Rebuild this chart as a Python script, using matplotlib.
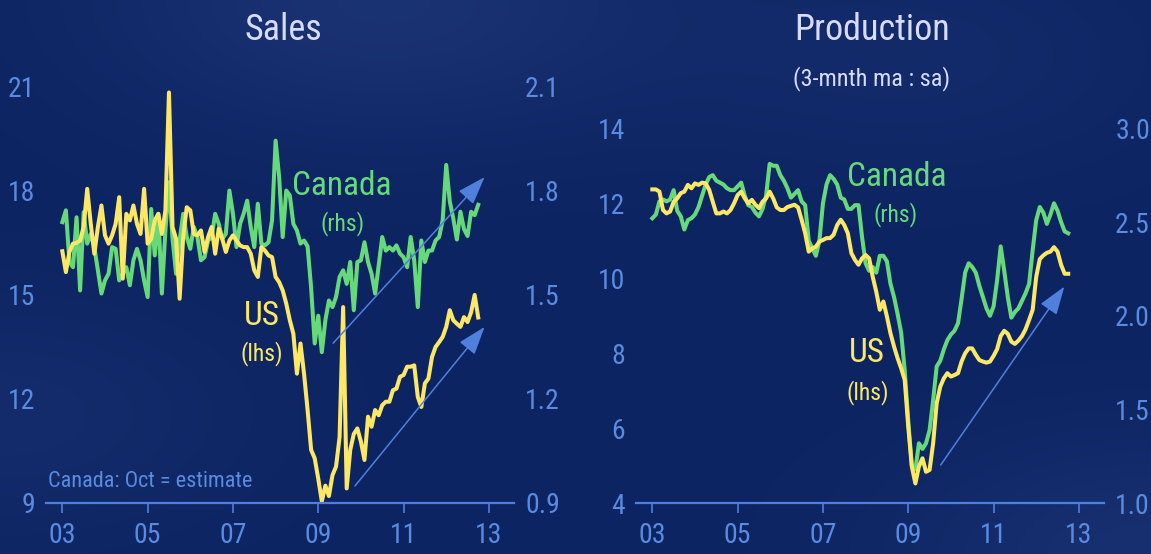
import numpy as np
import matplotlib
matplotlib.use("Agg")
import matplotlib.pyplot as plt
from matplotlib import font_manager

# ---- data (monthly, Jan 2003 .. Oct 2012) ----
start_year = 2003
xtick_years = [2003, 2005, 2007, 2009, 2011, 2013]
xtick_labels = ["03", "05", "07", "09", "11", "13"]

# Sales: US (lhs, mn saar), Canada (rhs, mn saar)
sales_us = [16.26, 15.66, 16.24, 16.48, 16.50, 16.57, 16.96, 18.06, 17.05, 16.19, 16.96, 17.58,
            16.72, 16.48, 16.72, 17.05, 17.82, 15.47, 17.34, 17.15, 17.58, 17.05, 16.76, 18.06,
            16.48, 16.62, 17.15, 17.34, 16.76, 17.44, 20.84, 16.96, 16.62, 14.89, 16.67, 17.53,
            17.44, 16.76, 16.72, 16.86, 16.24, 16.67, 16.96, 16.19, 16.91, 16.62, 16.24, 16.57,
            16.72, 16.57, 16.43, 16.38, 16.38, 16.19, 15.71, 15.52, 16.38, 16.28, 16.14, 16.09,
            15.52, 15.37, 15.13, 14.75, 14.27, 13.88, 12.73, 13.60, 12.73, 11.68, 10.53, 10.29,
            9.70, 9.05, 9.50, 9.20, 9.80, 10.05, 10.90, 14.65, 9.42, 10.53, 10.99, 11.15,
            10.77, 10.24, 11.49, 11.20, 11.68, 11.53, 11.82, 11.92, 11.92, 12.25, 12.30, 12.64,
            12.69, 12.93, 12.93, 12.97, 12.06, 11.77, 12.45, 12.59, 13.21, 13.50, 13.64, 13.79,
            14.08, 14.56, 14.27, 14.17, 14.08, 14.36, 14.22, 14.50, 15.00, 14.35]
sales_ca = [1.710, 1.744, 1.595, 1.580, 1.724, 1.513, 1.739, 1.648, 1.676, 1.638, 1.571, 1.504,
            1.542, 1.561, 1.638, 1.633, 1.542, 1.561, 1.580, 1.528, 1.600, 1.633, 1.600, 1.542,
            1.494, 1.748, 1.614, 1.734, 1.504, 1.686, 1.825, 1.662, 1.561, 1.657, 1.734, 1.667,
            1.633, 1.696, 1.667, 1.600, 1.609, 1.657, 1.667, 1.734, 1.705, 1.662, 1.676, 1.801,
            1.734, 1.638, 1.705, 1.734, 1.772, 1.696, 1.638, 1.763, 1.648, 1.643, 1.652, 1.715,
            1.945, 1.840, 1.667, 1.801, 1.787, 1.705, 1.686, 1.648, 1.657, 1.640, 1.520, 1.360,
            1.440, 1.335, 1.427, 1.484, 1.465, 1.494, 1.552, 1.571, 1.532, 1.595, 1.456, 1.595,
            1.600, 1.652, 1.595, 1.561, 1.504, 1.585, 1.667, 1.628, 1.638, 1.628, 1.643, 1.619,
            1.609, 1.580, 1.667, 1.600, 1.465, 1.657, 1.595, 1.628, 1.628, 1.657, 1.667, 1.715,
            1.875, 1.770, 1.720, 1.660, 1.740, 1.690, 1.670, 1.740, 1.730, 1.760]

# Production (3-mnth ma : sa): US (lhs, mn), Canada (rhs, mn)
prod_us = [12.37, 12.37, 12.31, 11.82, 11.73, 11.78, 12.04, 12.13, 12.27, 12.31, 12.49, 12.40,
           12.53, 12.49, 12.55, 12.53, 12.36, 12.04, 11.73, 11.73, 11.78, 11.73, 11.82, 12.00,
           12.22, 12.31, 12.13, 12.00, 12.09, 11.96, 11.87, 12.04, 12.13, 12.31, 12.13, 11.89,
           11.82, 11.82, 11.90, 11.93, 11.96, 11.89, 11.56, 11.20, 10.71, 10.80, 10.84, 10.98,
           11.02, 11.07, 11.07, 11.16, 11.42, 11.56, 11.42, 11.20, 10.67, 10.49, 10.36, 10.53,
           10.62, 10.53, 10.04, 9.64, 9.16, 9.38, 8.98, 8.53, 8.18, 7.87, 7.60, 7.29,
           6.04, 4.98, 4.53, 4.98, 5.20, 4.84, 4.89, 5.60, 6.67, 7.11, 7.33, 7.47,
           7.38, 7.42, 7.47, 7.78, 8.00, 8.13, 8.13, 7.96, 7.82, 7.78, 7.75, 7.78,
           7.93, 8.11, 8.46, 8.60, 8.52, 8.31, 8.25, 8.34, 8.46, 8.64, 8.89, 9.16,
           10.04, 10.51, 10.61, 10.68, 10.71, 10.83, 10.71, 10.36, 10.12, 10.12]
prod_ca = [2.52, 2.54, 2.61, 2.62, 2.61, 2.62, 2.67, 2.56, 2.53, 2.46, 2.51, 2.52,
           2.54, 2.58, 2.64, 2.70, 2.74, 2.75, 2.72, 2.71, 2.70, 2.68, 2.67, 2.67,
           2.69, 2.71, 2.64, 2.59, 2.58, 2.55, 2.53, 2.57, 2.64, 2.81, 2.80, 2.80,
           2.75, 2.72, 2.68, 2.63, 2.65, 2.67, 2.61, 2.59, 2.40, 2.36, 2.32, 2.40,
           2.60, 2.70, 2.75, 2.73, 2.70, 2.63, 2.62, 2.57, 2.57, 2.59, 2.59, 2.42,
           2.28, 2.24, 2.26, 2.23, 2.32, 2.32, 2.29, 2.17, 2.10, 2.01, 1.91, 1.71,
           1.44, 1.20, 1.18, 1.32, 1.29, 1.32, 1.39, 1.55, 1.73, 1.76, 1.82, 1.87,
           1.90, 1.92, 1.96, 2.09, 2.23, 2.28, 2.26, 2.23, 2.16, 2.10, 2.04, 2.00,
           2.05, 2.19, 2.37, 2.24, 2.10, 1.99, 2.02, 2.04, 2.08, 2.12, 2.17, 2.35,
           2.51, 2.58, 2.55, 2.49, 2.54, 2.60, 2.56, 2.50, 2.45, 2.44]

sales_lhs_ticks = [9, 12, 15, 18, 21]
sales_rhs_ticks = [0.9, 1.2, 1.5, 1.8, 2.1]
prod_lhs_ticks = [4, 6, 8, 10, 12, 14]
prod_rhs_ticks = [1.0, 1.5, 2.0, 2.5, 3.0]

# ---- style ----
GREEN = "#66d97a"
YELLOW = "#fde866"
TICK = "#5a8be0"
AXIS = "#4f7fdc"
TITLE = "#d6dbff"

def pick_font(cands):
    names = {f.name for f in font_manager.fontManager.ttflist}
    for c in cands:
        if c in names:
            return c
    return "DejaVu Sans"

FONT = pick_font(["Liberation Sans Narrow", "Roboto Condensed", "Open Sans Condensed", "Liberation Sans"])
plt.rcParams["font.family"] = [FONT, "DejaVu Sans"]

months = start_year + np.arange(len(sales_us)) / 12.0
XLIM = (2002.618, 2013.59)

fig = plt.figure(figsize=(11.51, 5.54), dpi=100)

# background
yy, xx = np.mgrid[0:1:277j, 0:1:576j]
base = np.array([13, 36, 98]) / 255.0
light = np.array([36, 62, 128]) / 255.0
w = (0.55 * np.exp(-((xx - 0.33) ** 2 + (yy - 0.0) ** 2) / 0.06)
     + 0.45 * np.exp(-((xx - 1.0) ** 2 + (yy - 1.0) ** 2) / 0.05)
     + 0.30 * np.exp(-((xx - 0.0) ** 2 + (yy - 0.75) ** 2) / 0.05)
     + 0.25 * np.exp(-((xx - 0.8) ** 2 + (yy - 0.1) ** 2) / 0.05))
w = np.clip(w, 0, 1)
img = base[None, None, :] * (1 - w[..., None]) + light[None, None, :] * w[..., None]
bg = fig.add_axes([0, 0, 1, 1], zorder=-10)
bg.imshow(img, aspect="auto", extent=[0, 1, 0, 1], interpolation="bilinear")
bg.axis("off")


def setup_panel(rect, lhs_ticks, rhs_ticks, lhs_lim, rhs_lim, rhs_fmt):
    ax = fig.add_axes(rect)
    ax2 = ax.twinx()
    ax.set_zorder(ax2.get_zorder() + 1)
    ax.patch.set_visible(False)
    for a in (ax, ax2):
        for s in ("top", "left", "right", "bottom"):
            a.spines[s].set_visible(False)
    ax.spines["bottom"].set_visible(True)
    ax.spines["bottom"].set_color(AXIS)
    ax.spines["bottom"].set_linewidth(1.6)
    ax.set_xlim(*XLIM)
    ax.set_ylim(*lhs_lim)
    ax2.set_ylim(*rhs_lim)
    ax.set_xticks(xtick_years)
    ax.set_xticklabels(xtick_labels)
    ax.tick_params(axis="x", direction="out", length=7.5, width=1.2, color=AXIS,
                   labelcolor=TICK, labelsize=20, pad=6)
    ax.set_yticks(lhs_ticks)
    ax.set_yticklabels([str(t) for t in lhs_ticks])
    ax.tick_params(axis="y", length=0, labelcolor=TICK, labelsize=20, pad=8)
    ax2.set_yticks(rhs_ticks)
    ax2.set_yticklabels([rhs_fmt % t for t in rhs_ticks])
    ax2.tick_params(axis="y", length=0, labelcolor=TICK, labelsize=20, pad=8)
    ax2.tick_params(axis="x", length=0)
    return ax, ax2


arrow_kw = dict(arrowstyle="-|>,head_length=1.1,head_width=0.38", color="#4f80dc",
                lw=1.1, mutation_scale=16, shrinkA=0, shrinkB=0)
LW = 2.9

# ---- Sales ----
ax, ax2 = setup_panel([0.040, 0.0921, 0.4066, 0.751], sales_lhs_ticks, sales_rhs_ticks,
                      (9, 21), (0.9, 2.1), "%.1f")
ax2.plot(months, sales_ca, color=GREEN, lw=LW, solid_joinstyle="round", clip_on=False)
ax.plot(months, sales_us, color=YELLOW, lw=LW, solid_joinstyle="round", clip_on=False)
ax.annotate("", xy=(2012.90, 18.40), xytext=(2009.35, 13.61), arrowprops=arrow_kw)
ax.annotate("", xy=(2012.90, 14.08), xytext=(2009.86, 9.49), arrowprops=arrow_kw)
ax.text(2009.56, 18.15, "Canada", color=GREEN, fontsize=24, ha="center", va="center")
ax.text(2009.56, 17.05, "(rhs)", color=GREEN, fontsize=17, ha="center", va="center")
ax.text(2007.67, 14.4, "US", color=YELLOW, fontsize=24, ha="center", va="center")
ax.text(2007.67, 13.3, "(lhs)", color=YELLOW, fontsize=17, ha="center", va="center")
ax.text(2002.66, 9.62, "Canada: Oct = estimate", color=TICK, fontsize=16, ha="left", va="center")
fig.text(0.246, 0.945, "Sales", color=TITLE, fontsize=26, ha="center", va="center")

# ---- Production ----
bx, bx2 = setup_panel([0.5526, 0.0915, 0.4066, 0.677], prod_lhs_ticks, prod_rhs_ticks,
                      (4, 14), (1.0, 3.0), "%.1f")
bx2.plot(months, prod_ca, color=GREEN, lw=LW, solid_joinstyle="round", clip_on=False)
bx.plot(months, prod_us, color=YELLOW, lw=LW, solid_joinstyle="round", clip_on=False)
bx.annotate("", xy=(2012.66, 9.78), xytext=(2009.76, 5.02), arrowprops=arrow_kw)
bx.text(2008.73, 12.7, "Canada", color=GREEN, fontsize=24, ha="center", va="center")
bx.text(2008.70, 11.7, "(rhs)", color=GREEN, fontsize=17, ha="center", va="center")
bx.text(2008.03, 8.0, "US", color=YELLOW, fontsize=24, ha="center", va="center")
bx.text(2008.05, 6.95, "(lhs)", color=YELLOW, fontsize=17, ha="center", va="center")
fig.text(0.7576, 0.945, "Production", color=TITLE, fontsize=26, ha="center", va="center")
fig.text(0.7576, 0.858, "(3-mnth ma : sa)", color=TITLE, fontsize=17.5, ha="center", va="center")

fig.savefig("out.png", dpi=100, facecolor=fig.get_facecolor())
